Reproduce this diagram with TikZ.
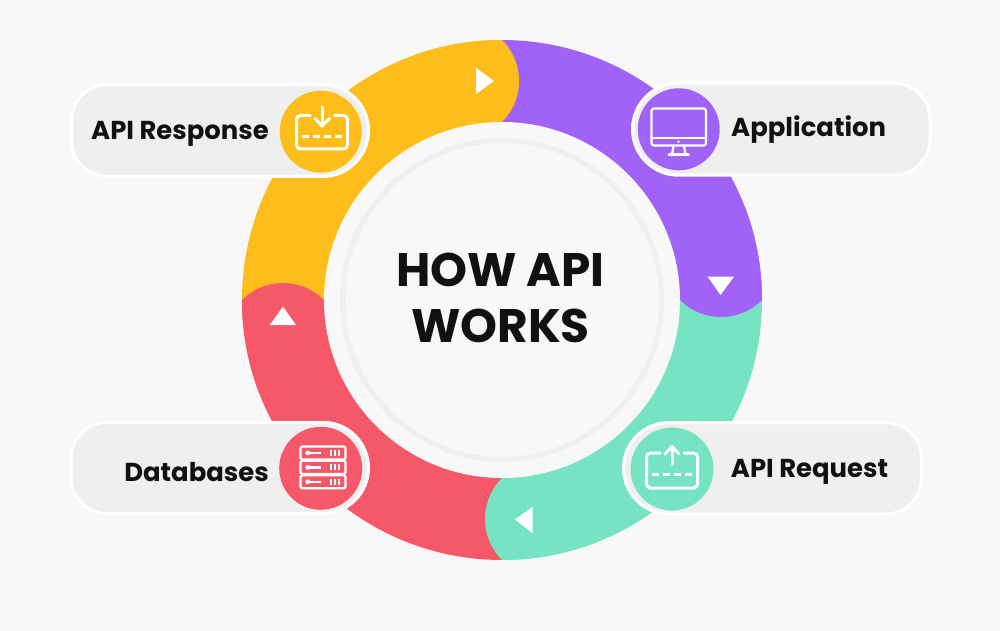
\documentclass[tikz,border=0pt]{standalone}
\usepackage{fontspec}
\setmainfont{Poppins}
\newfontfamily\titlefont{Poppins}
\definecolor{bgc}{HTML}{F8F8F8}
\definecolor{pillc}{HTML}{EFEFEF}
\definecolor{ylw}{HTML}{FDBD1A}
\definecolor{prp}{HTML}{A162F7}
\definecolor{tea}{HTML}{76E4C3}
\definecolor{rdd}{HTML}{F55868}
\definecolor{ink}{HTML}{111111}
\tikzset{
  pill/.style={fill=pillc,draw=white,line width=3pt},
  badge/.style={circle,minimum size=#1,inner sep=0pt,draw=none},
  label/.style={inner sep=0pt,font=\fontsize{25.9}{30}\selectfont\bfseries,text=ink},
  heading/.style={inner sep=0pt,font=\titlefont\fontsize{47}{56}\selectfont\bfseries,text=ink},
  icon/.style={draw=white,line width=3pt,line cap=round,line join=round},
  iconthin/.style={draw=white,line width=2.2pt,line join=round},
  tri/.style={fill=white,draw=none}
}
% x0 x1 y0 y1 left-radius right-radius
\newcommand{\pillshape}[6]{%
  \pgfmathsetmacro{\ka}{0.4477*#5}%
  \pgfmathsetmacro{\kb}{0.4477*#6}%
  \draw[pill] ({#1+#5},#3) -- ({#2-#6},#3)
    .. controls ({#2-\kb},#3) and (#2,{#3+\kb}) .. (#2,{#3+#6})
    -- (#2,{#4-#6})
    .. controls (#2,{#4-\kb}) and ({#2-\kb},#4) .. ({#2-#6},#4)
    -- ({#1+#5},#4)
    .. controls ({#1+\ka},#4) and (#1,{#4-\ka}) .. (#1,{#4-#5})
    -- (#1,{#3+#5})
    .. controls (#1,{#3+\ka}) and ({#1+\ka},#3) .. ({#1+#5},#3) -- cycle;%
}
\begin{document}
\begin{tikzpicture}[x=1pt,y=-1pt]
\useasboundingbox (0,0) rectangle (1000,631);
\fill[bgc] (0,0) rectangle (1000,631);
% ring
\begin{scope}
  \clip (502,300) circle[radius=260pt];
  \fill[ylw] (232,30) rectangle (502,300);
  \fill[prp] (502,30) rectangle (772,300);
  \fill[tea] (502,300) rectangle (772,570);
  \fill[rdd] (232,300) rectangle (502,570);
  \fill[ylw] (461,81) circle[radius=58pt];
  \fill[prp] (721,259) circle[radius=58pt];
  \fill[tea] (543,519) circle[radius=58pt];
  \fill[rdd] (283,341) circle[radius=58pt];
\end{scope}
\fill[bgc] (502,300) circle[radius=178pt];
\draw[pillc,line width=5pt] (502,300) circle[radius=159.5pt];
% direction triangles
\fill[tri] (476,67.7) -- (494,81) -- (476,94) -- cycle;
\fill[tri] (707.7,276.7) -- (734,276.7) -- (720.5,295) -- cycle;
\fill[tri] (532.7,506.7) -- (515,519.5) -- (532.7,533.3) -- cycle;
\fill[tri] (269.7,325) -- (296,325) -- (283,306.7) -- cycle;
% pills
\pillshape{71.5}{368.5}{84.5}{176.5}{36}{46}
\pillshape{632.5}{930}{83.2}{175.2}{46}{36}
\pillshape{71}{368.5}{422.3}{513.5}{36}{45.6}
\pillshape{623.5}{921.5}{422.5}{514}{45.7}{36}
% badges
\node[badge=82pt,fill=ylw] (respbadge) at (320.7,131.7) {};
\node[badge=82pt,fill=prp] (appbadge) at (678.7,129.3) {};
\node[badge=83pt,fill=rdd] (dbbadge) at (320.7,468.3) {};
\node[badge=83pt,fill=tea] (reqbadge) at (672,469) {};
% labels
\node[label,anchor=base east] (resp) at (269,140) {API Response};
\node[label,anchor=base west] (app) at (731,137) {Application};
\node[label,anchor=base east] (db) at (269,481) {Databases};
\node[label,anchor=base west] (req) at (730.7,477.5) {API Request};
\node[heading,anchor=base] (t1) at (500.5,286) {HOW API};
\node[heading,anchor=base] (t2) at (500.5,342) {WORKS};
% download icon
\draw[icon,rounded corners=4pt] (310,115.5) -- (296.5,115.5) -- (296.5,149) -- (347.5,149) -- (347.5,115.5) -- (334,115.5);
\draw[icon] (322,107) -- (322,126);
\draw[icon] (315,118.5) -- (322,126) -- (329.5,118.5);
\draw[icon,line cap=butt,dash pattern=on 7pt off 4pt] (302,136.7) -- (343,136.7);
% upload icon
\draw[icon,rounded corners=4pt] (660,453) -- (646.5,453) -- (646.5,488) -- (697.5,488) -- (697.5,453) -- (684,453);
\draw[icon] (672,446.5) -- (672,464);
\draw[icon] (665,454) -- (672,446.5) -- (679,454);
\draw[icon,line cap=butt,dash pattern=on 7pt off 4pt] (652,474) -- (693,474);
% monitor icon
\draw[iconthin,rounded corners=2.5pt] (651.5,108.5) rectangle (706,145.5);
\draw[iconthin] (651.5,137.7) -- (706,137.7);
\fill[white] (678.5,141.6) circle[radius=1.3pt];
\draw[iconthin] (673.5,146) -- (672,154.5);
\draw[iconthin] (684,146) -- (685.5,154.5);
\draw[icon] (669,154.5) -- (688.5,154.5);
% server icon
\draw[iconthin,rounded corners=1.5pt] (300.5,446.5) rectangle (345.5,459.5);
\draw[iconthin,rounded corners=1.5pt] (300.5,460.8) rectangle (345.5,474);
\draw[iconthin,rounded corners=1.5pt] (300.5,475.3) rectangle (345.5,488.3);
\foreach \yy in {453,467.4,481.8}{
  \fill[white] (307.7,\yy) circle[radius=2.4pt];
  \draw[iconthin] (308,\yy) -- (320.7,\yy);
  \foreach \xx in {330.7,334.7,338.7}{
    \draw[iconthin] (\xx,\yy-3) -- (\xx,\yy+3);
  }
}
\end{tikzpicture}
\end{document}
